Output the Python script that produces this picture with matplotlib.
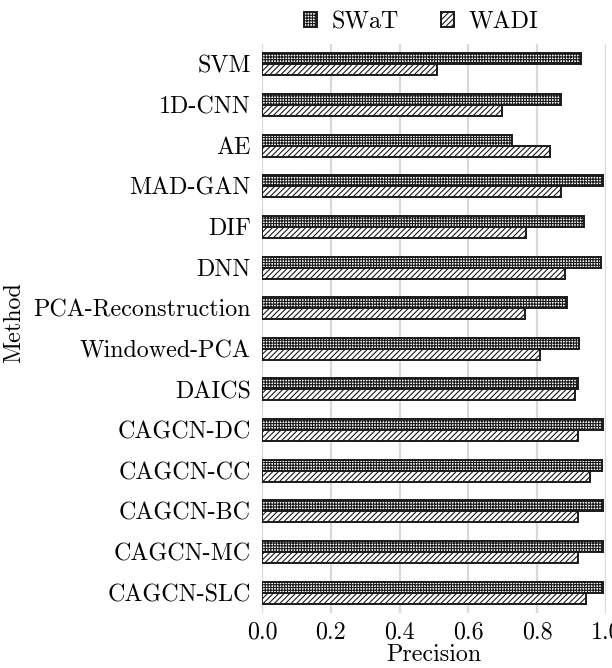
import matplotlib
matplotlib.use("Agg")
import matplotlib.pyplot as plt
import numpy as np

methods = ["SVM", "1D-CNN", "AE", "MAD-GAN", "DIF", "DNN", "PCA-Reconstruction",
           "Windowed-PCA", "DAICS", "CAGCN-DC", "CAGCN-CC", "CAGCN-BC", "CAGCN-MC", "CAGCN-SLC"]
swat = [0.927, 0.869, 0.728, 0.992, 0.937, 0.985, 0.888, 0.921, 0.920, 0.992, 0.989, 0.990, 0.990, 0.992]
wadi = [0.510, 0.698, 0.836, 0.870, 0.766, 0.881, 0.765, 0.809, 0.909, 0.918, 0.953, 0.918, 0.918, 0.943]
xticks = [0.0, 0.2, 0.4, 0.6, 0.8, 1.0]

plt.rcParams['font.family'] = ['cmr10', 'DejaVu Serif']
plt.rcParams['axes.formatter.use_mathtext'] = True
plt.rcParams['hatch.linewidth'] = 0.8
plt.rcParams['hatch.color'] = 'black'

FS = 17.3
fig = plt.figure(figsize=(6.12, 6.68), dpi=100)
ax = fig.add_axes([262/612, 1 - 613/668, (606-262)/612, (613-44)/668])

y = np.arange(len(methods))
h = 0.27
ax.barh(y - h/2, swat, height=h, color='white', edgecolor='#1a1a1a', hatch='++++++',
        linewidth=1.4, label='SWaT', zorder=3)
ax.barh(y + h/2, wadi, height=h, color='white', edgecolor='#1a1a1a', hatch='//////',
        linewidth=1.4, label='WADI', zorder=3)

ax.set_ylim(len(methods) - 0.5, -0.5)
ax.set_xlim(0, 1.0)
ax.set_yticks(y)
ax.set_yticklabels(methods, fontsize=FS)
ax.set_xticks(xticks)
ax.set_xticklabels([f"{v:.1f}" for v in xticks], fontsize=FS)
ax.tick_params(axis='y', length=0, pad=8)
ax.tick_params(axis='x', length=0, pad=6)
for s in ax.spines.values():
    s.set_visible(False)
ax.grid(axis='x', color='#d9d9d9', linewidth=1.6, zorder=0)
ax.set_axisbelow(True)
ax.set_xlabel('Precision', fontsize=FS, labelpad=0)
ax.set_ylabel('Method', fontsize=FS)
ax.yaxis.set_label_coords(-0.688, 0.51)
leg = fig.legend(loc='center', bbox_to_anchor=(421/612, 1 - 22/668), ncol=2, frameon=False,
                 fontsize=FS, handlelength=0.55, handleheight=0.55, columnspacing=1.75,
                 handletextpad=0.6, borderpad=0)
fig.savefig('out.png', dpi=100)
